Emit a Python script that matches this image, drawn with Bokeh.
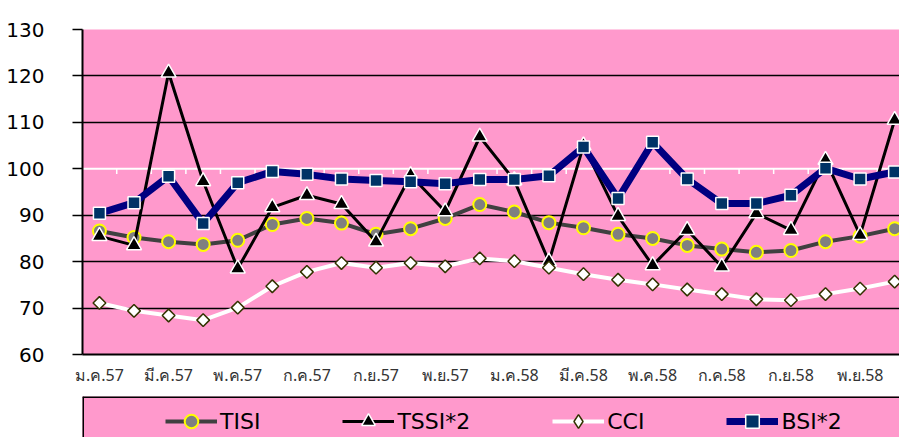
import math
from bokeh.plotting import figure
from bokeh.models import (Range1d, FixedTicker, Span, Legend, LegendItem,
                          ColumnDataSource)
from bokeh.layouts import column
from bokeh.embed import file_html
from bokeh.resources import INLINE

# ---- data ----
months = ["ม.ค.57", "ก.พ.57", "มี.ค.57", "เม.ย.57", "พ.ค.57", "มิ.ย.57",
          "ก.ค.57", "ส.ค.57", "ก.ย.57", "ต.ค.57", "พ.ย.57", "ธ.ค.57",
          "ม.ค.58", "ก.พ.58", "มี.ค.58", "เม.ย.58", "พ.ค.58", "มิ.ย.58",
          "ก.ค.58", "ส.ค.58", "ก.ย.58", "ต.ค.58", "พ.ย.58", "ธ.ค.58"]
tisi = [86.6, 85.2, 84.3, 83.7, 84.6, 88.0, 89.3, 88.3, 85.9, 87.1, 89.3, 92.3,
        90.7, 88.4, 87.3, 85.9, 85.0, 83.5, 82.7, 82.0, 82.4, 84.3, 85.5, 87.1]
tssi2 = [85.5, 83.5, 120.7, 97.3, 78.5, 91.7, 94.3, 92.4, 84.3, 98.6, 90.8, 106.9,
         97.5, 80.0, 105.0, 89.8, 79.2, 86.8, 78.9, 90.4, 86.8, 101.9, 85.7, 110.5]
cci = [71.1, 69.4, 68.4, 67.4, 70.1, 74.7, 77.8, 79.7, 78.7, 79.7, 79.0, 80.7,
       80.1, 78.7, 77.3, 76.1, 75.1, 74.0, 73.0, 71.9, 71.7, 73.0, 74.2, 75.7]
bsi2 = [90.4, 92.7, 98.4, 88.2, 97.0, 99.4, 98.8, 97.8, 97.5, 97.2, 96.8, 97.7,
        97.7, 98.5, 104.7, 93.6, 105.7, 97.8, 92.5, 92.5, 94.3, 100.1, 97.8, 99.3]
y_ticks = [60, 70, 80, 90, 100, 110, 120, 130]

PINK = "#FF99CC"
xs = list(range(len(months)))

p = figure(width=899, height=396, output_backend="svg", toolbar_location=None,
           x_range=Range1d(-0.49, 23.14), y_range=Range1d(60, 130),
           min_border_left=82, min_border_right=0, min_border_top=29,
           min_border_bottom=42)
p.background_fill_color = PINK
p.border_fill_color = "white"
p.outline_line_color = None

# axes
p.yaxis.ticker = FixedTicker(ticks=y_ticks)
p.yaxis.axis_line_color = "black"
p.yaxis.axis_line_width = 2
p.yaxis.major_tick_line_color = "black"
p.yaxis.major_tick_line_width = 1.5
p.yaxis.major_tick_out = 10
p.yaxis.major_tick_in = 0
p.yaxis.minor_tick_line_color = None
p.yaxis.major_label_text_font = "DejaVu Sans"
p.yaxis.major_label_text_font_size = "20px"
p.yaxis.major_label_text_color = "black"
p.yaxis.major_label_standoff = 28

p.xaxis.ticker = FixedTicker(ticks=xs[::2])
p.xaxis.major_label_overrides = {i: months[i] for i in xs[::2]}
p.xaxis.axis_line_color = "black"
p.xaxis.axis_line_width = 2
p.xaxis.major_tick_line_color = None
p.xaxis.minor_tick_line_color = None
p.xaxis.major_label_text_font = "Noto Sans"
p.xaxis.major_label_text_font_size = "16px"
p.xaxis.major_label_text_color = "#333333"
p.xaxis.major_label_standoff = 3

p.xgrid.grid_line_color = None
p.ygrid.ticker = FixedTicker(ticks=[t for t in y_ticks if t != 100])
p.ygrid.grid_line_color = "black"
p.ygrid.grid_line_width = 1.5

# white category line at 100 with tick marks
span = Span(location=100, dimension="width", line_color="white", line_width=2,
            level="underlay")
p.add_layout(span)
bounds = [k - 0.5 for k in range(1, len(months))]
p.segment(x0=bounds, x1=bounds, y0=[100] * len(bounds), y1=[98.9] * len(bounds),
          line_color="white", line_width=1.5)

# series
p.line(xs, tisi, line_color="#404040", line_width=4)
p.scatter(xs, tisi, marker="circle", size=13, fill_color="#808080",
          line_color="#FFFF00", line_width=2)

p.line(xs, tssi2, line_color="black", line_width=3)
p.scatter(xs, tssi2, marker="triangle", size=15, fill_color="black",
          line_color="white", line_width=1.5)

p.line(xs, cci, line_color="white", line_width=4)
p.scatter(xs, cci, marker="square", size=9, angle=math.pi / 4,
          fill_color="white", line_color="#333300", line_width=1.5)

p.line(xs, bsi2, line_color="#000080", line_width=7)
p.scatter(xs, bsi2, marker="square", size=12, fill_color="#003366",
          line_color="white", line_width=1.5)

# ---- legend panel ----
q = figure(width=899, height=41, output_backend="svg", toolbar_location=None,
           x_range=Range1d(0, 1), y_range=Range1d(0, 1),
           x_axis_type=None, y_axis_type=None,
           min_border_left=82, min_border_right=0, min_border_top=0,
           min_border_bottom=0)
q.background_fill_color = PINK
q.border_fill_color = "white"
q.outline_line_color = None
q.xgrid.grid_line_color = None
q.ygrid.grid_line_color = None
q.segment(x0=[0, 0], y0=[0, 1], x1=[0, 1], y1=[1, 1], line_color="black",
          line_width=3)

def offscreen():
    # legend-only renderers: one point far outside the visible range
    return ColumnDataSource(data=dict(x=[-100], y=[-100]))

r1l = q.line("x", "y", source=offscreen(), line_color="#404040", line_width=4)
r1m = q.scatter("x", "y", source=offscreen(), marker="circle", fill_color="#808080",
                line_color="#FFFF00", line_width=2)
r2l = q.line("x", "y", source=offscreen(), line_color="black", line_width=3)
r2m = q.scatter("x", "y", source=offscreen(), marker="triangle", fill_color="black",
                line_color="white", line_width=1.5)
r3l = q.line("x", "y", source=offscreen(), line_color="white", line_width=4)
r3m = q.scatter("x", "y", source=offscreen(), marker="diamond", fill_color="white",
                line_color="#333300", line_width=1.5)
r4l = q.line("x", "y", source=offscreen(), line_color="#000080", line_width=7)
r4m = q.scatter("x", "y", source=offscreen(), marker="square", fill_color="#003366",
                line_color="white", line_width=1.5)

legend = Legend(items=[LegendItem(label="TISI", renderers=[r1l, r1m]),
                       LegendItem(label="TSSI*2", renderers=[r2l, r2m]),
                       LegendItem(label="CCI", renderers=[r3l, r3m]),
                       LegendItem(label="BSI*2", renderers=[r4l, r4m])],
                orientation="horizontal", location=(83, -1))
legend.padding = 0
legend.margin = 0
legend.spacing = 82
legend.glyph_width = 52
legend.glyph_height = 34
legend.label_standoff = 3
legend.label_text_font = "DejaVu Sans"
legend.label_text_font_size = "22px"
legend.label_text_color = "black"
legend.border_line_color = None
legend.background_fill_alpha = 0
q.add_layout(legend, "center")

layout = column(p, q, spacing=0)
open("out.html", "w").write(file_html(layout, INLINE))
